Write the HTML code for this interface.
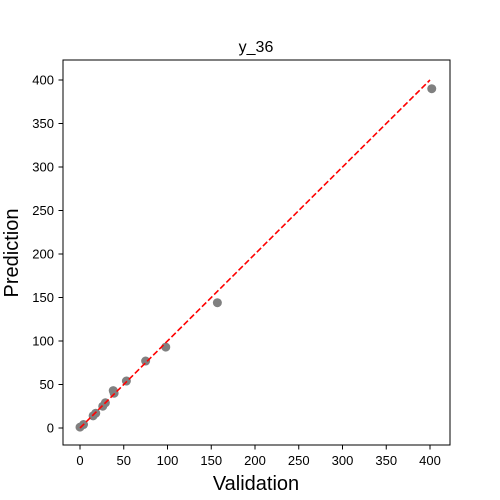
<!DOCTYPE html>
<html><head><meta charset="utf-8"><style>
body{margin:0;background:#fff;}
svg{display:block;font-family:"Liberation Sans","DejaVu Sans",sans-serif;}
</style></head><body>
<svg id="chart" width="500" height="500">
<rect width="500" height="500" fill="#fff"/>
<text x="256" y="52" font-size="16" text-anchor="middle">y_36</text>
<text x="256" y="490" font-size="20" text-anchor="middle">Validation</text>
<text x="0" y="0" font-size="20" text-anchor="middle" transform="translate(18,253) rotate(-90)">Prediction</text>
<g id="ticks"></g>
<g id="marks"></g>
<rect x="63" y="60" width="387" height="385" fill="none" stroke="#000" stroke-width="1"/>
</svg>
<script>
const xTicks=[0,50,100,150,200,250,300,350,400];
const yTicks=[0,50,100,150,200,250,300,350,400];
const validation=[0,4,15,18,26,29,38,39,53,75,98,157,402];
const prediction=[1,4,14,17,25,29,43,40,54,77,93,144,390];
const lineRange=[0,400];
const ns="http://www.w3.org/2000/svg";
function sx(v){return 80+v*0.875;}
function sy(v){return 428-v*0.87;}
function mk(t,a,p){const e=document.createElementNS(ns,t);for(const k in a)e.setAttribute(k,a[k]);p.appendChild(e);return e;}
const tg=document.getElementById('ticks'),mg=document.getElementById('marks');
xTicks.forEach(v=>{
 const l=mk('line',{x1:sx(v),x2:sx(v),y1:445,y2:449.5,stroke:'#000'},tg);
 
 
 const t=mk('text',{x:sx(v),y:465,'font-size':13,'text-anchor':'middle'},tg);t.textContent=v;
 
 
});
yTicks.forEach(v=>{
 const l=mk('line',{x1:58.5,x2:63,y1:sy(v),y2:sy(v),stroke:'#000'},tg);
 
 
 const t=mk('text',{x:54,y:sy(v)+4.5,'font-size':13,'text-anchor':'end'},tg);t.textContent=v;
 
 
});
validation.forEach((v,i)=>{
 const c=mk('circle',{cx:sx(v),cy:sy(prediction[i]),r:4.5,fill:'#808080'},mg);
 
 
});
const ln=mk('line',{x1:sx(lineRange[0]),y1:sy(lineRange[0]),x2:sx(lineRange[1]),y2:sy(lineRange[1]),stroke:'#ff0000','stroke-width':1.6,'stroke-dasharray':'6,2.6'},mg);


</script>
</body></html>
